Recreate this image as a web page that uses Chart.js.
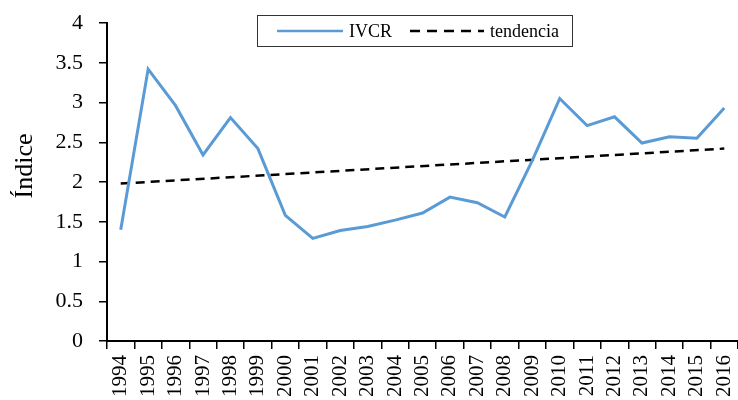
<!DOCTYPE html>
<html>
<head>
<meta charset="utf-8">
<script src="https://cdn.jsdelivr.net/npm/chart.js@4.4.0/dist/chart.umd.min.js"></script>
<style>
  html, body { margin: 0; padding: 0; background: #fff; }
  #wrap { width: 738px; height: 400px; position: relative; }
</style>
</head>
<body>
<div id="wrap"><canvas id="ivcrChart"></canvas></div>
<script>
// Years on the x axis
const years = ['1994', '1995', '1996', '1997', '1998', '1999', '2000', '2001', '2002', '2003', '2004', '2005',
               '2006', '2007', '2008', '2009', '2010', '2011', '2012', '2013', '2014', '2015', '2016'];

// IVCR index
const ivcr = [1.40, 3.42, 2.96, 2.34, 2.81, 2.42, 1.58, 1.29, 1.39, 1.44, 1.52, 1.61,
              1.81, 1.74, 1.56, 2.27, 3.05, 2.71, 2.82, 2.49, 2.57, 2.55, 2.93];

// Trend line: only the two ends are read, the line joins them
const trendStart = 1.98;
const trendEnd = 2.42;

// Y axis range
const yMin = 0;
const yMax = 4;
const yStep = 0.5;
const yTitle = 'Índice';

const serif = '"Liberation Serif", "Times New Roman", serif';

const trend = years.map(function(y, i) {
    if (i === 0) return trendStart;
    if (i === years.length - 1) return trendEnd;
    return null;
});

// Legend with a box, drawn over the plot like in the original
const boxLegend = {
    id: 'boxLegend',
    afterDraw(chart) {
        const ctx = chart.ctx;
        const sets = chart.data.datasets;
        ctx.save();
        ctx.fillStyle = '#fff';
        ctx.fillRect(257, 15, 315, 31);
        ctx.strokeStyle = '#333';
        ctx.lineWidth = 1;
        ctx.strokeRect(257.5, 15.5, 315, 31);

        ctx.font = '18px ' + serif;
        ctx.textBaseline = 'middle';
        ctx.fillStyle = '#000';

        // IVCR
        ctx.strokeStyle = sets[0].borderColor;
        ctx.lineWidth = 2.5;
        ctx.beginPath();
        ctx.moveTo(277, 31);
        ctx.lineTo(343, 31);
        ctx.stroke();
        ctx.fillText(sets[0].label, 349, 32);

        // tendencia
        ctx.strokeStyle = sets[1].borderColor;
        ctx.lineWidth = 2.5;
        ctx.setLineDash([10, 7]);
        ctx.beginPath();
        ctx.moveTo(410, 31);
        ctx.lineTo(484, 31);
        ctx.stroke();
        ctx.setLineDash([]);
        ctx.fillText(sets[1].label, 490, 32);

        // y axis title, sits a bit above the middle in the original
        ctx.save();
        ctx.translate(25, 166);
        ctx.rotate(-Math.PI / 2);
        ctx.font = '26px ' + serif;
        ctx.textAlign = 'center';
        ctx.fillText(yTitle, 0, 0);
        ctx.restore();
        ctx.restore();
    }
};

new Chart(document.getElementById('ivcrChart'), {
    type: 'line',
    data: {
        labels: years,
        datasets: [{
            label: 'IVCR',
            data: ivcr,
            borderColor: '#5B9BD5',
            borderWidth: 3,
            pointRadius: 0,
            tension: 0,
            fill: false
        }, {
            label: 'tendencia',
            data: trend,
            borderColor: '#000',
            borderWidth: 2.5,
            borderDash: [9, 6],
            pointRadius: 0,
            spanGaps: true,
            fill: false
        }]
    },
    options: {
        responsive: true,
        maintainAspectRatio: false,
        animation: false,
        layout: {
            padding: { top: 23, right: 0, bottom: 0, left: 0 }
        },
        plugins: {
            legend: { display: false },
            tooltip: { enabled: false }
        },
        scales: {
            x: {
                type: 'category',
                offset: true,
                grid: {
                    offset: true,
                    drawOnChartArea: false,
                    drawTicks: true,
                    tickLength: 8,
                    color: '#000',
                    lineWidth: 1.5
                },
                border: { color: '#000', width: 2 },
                ticks: {
                    color: '#000',
                    font: { family: serif, size: 21 },
                    minRotation: 90,
                    maxRotation: 90,
                    autoSkip: false,
                    padding: 6
                },
                afterFit: function(scale) {
                    scale.height = 59;
                    scale.paddingLeft = 0;
                    scale.paddingRight = 0;
                }
            },
            y: {
                min: yMin,
                max: yMax,
                grid: {
                    drawOnChartArea: false,
                    drawTicks: true,
                    tickLength: 8,
                    color: '#000',
                    lineWidth: 1.5
                },
                border: { color: '#000', width: 2 },
                ticks: {
                    stepSize: yStep,
                    color: '#000',
                    font: { family: serif, size: 22 },
                    padding: 16,
                    callback: function(value) { return String(value); }
                },
                afterFit: function(scale) {
                    scale.width = 107;
                    scale.paddingTop = 0;
                    scale.paddingBottom = 0;
                }
            }
        }
    },
    plugins: [boxLegend]
});
</script>
</body>
</html>
